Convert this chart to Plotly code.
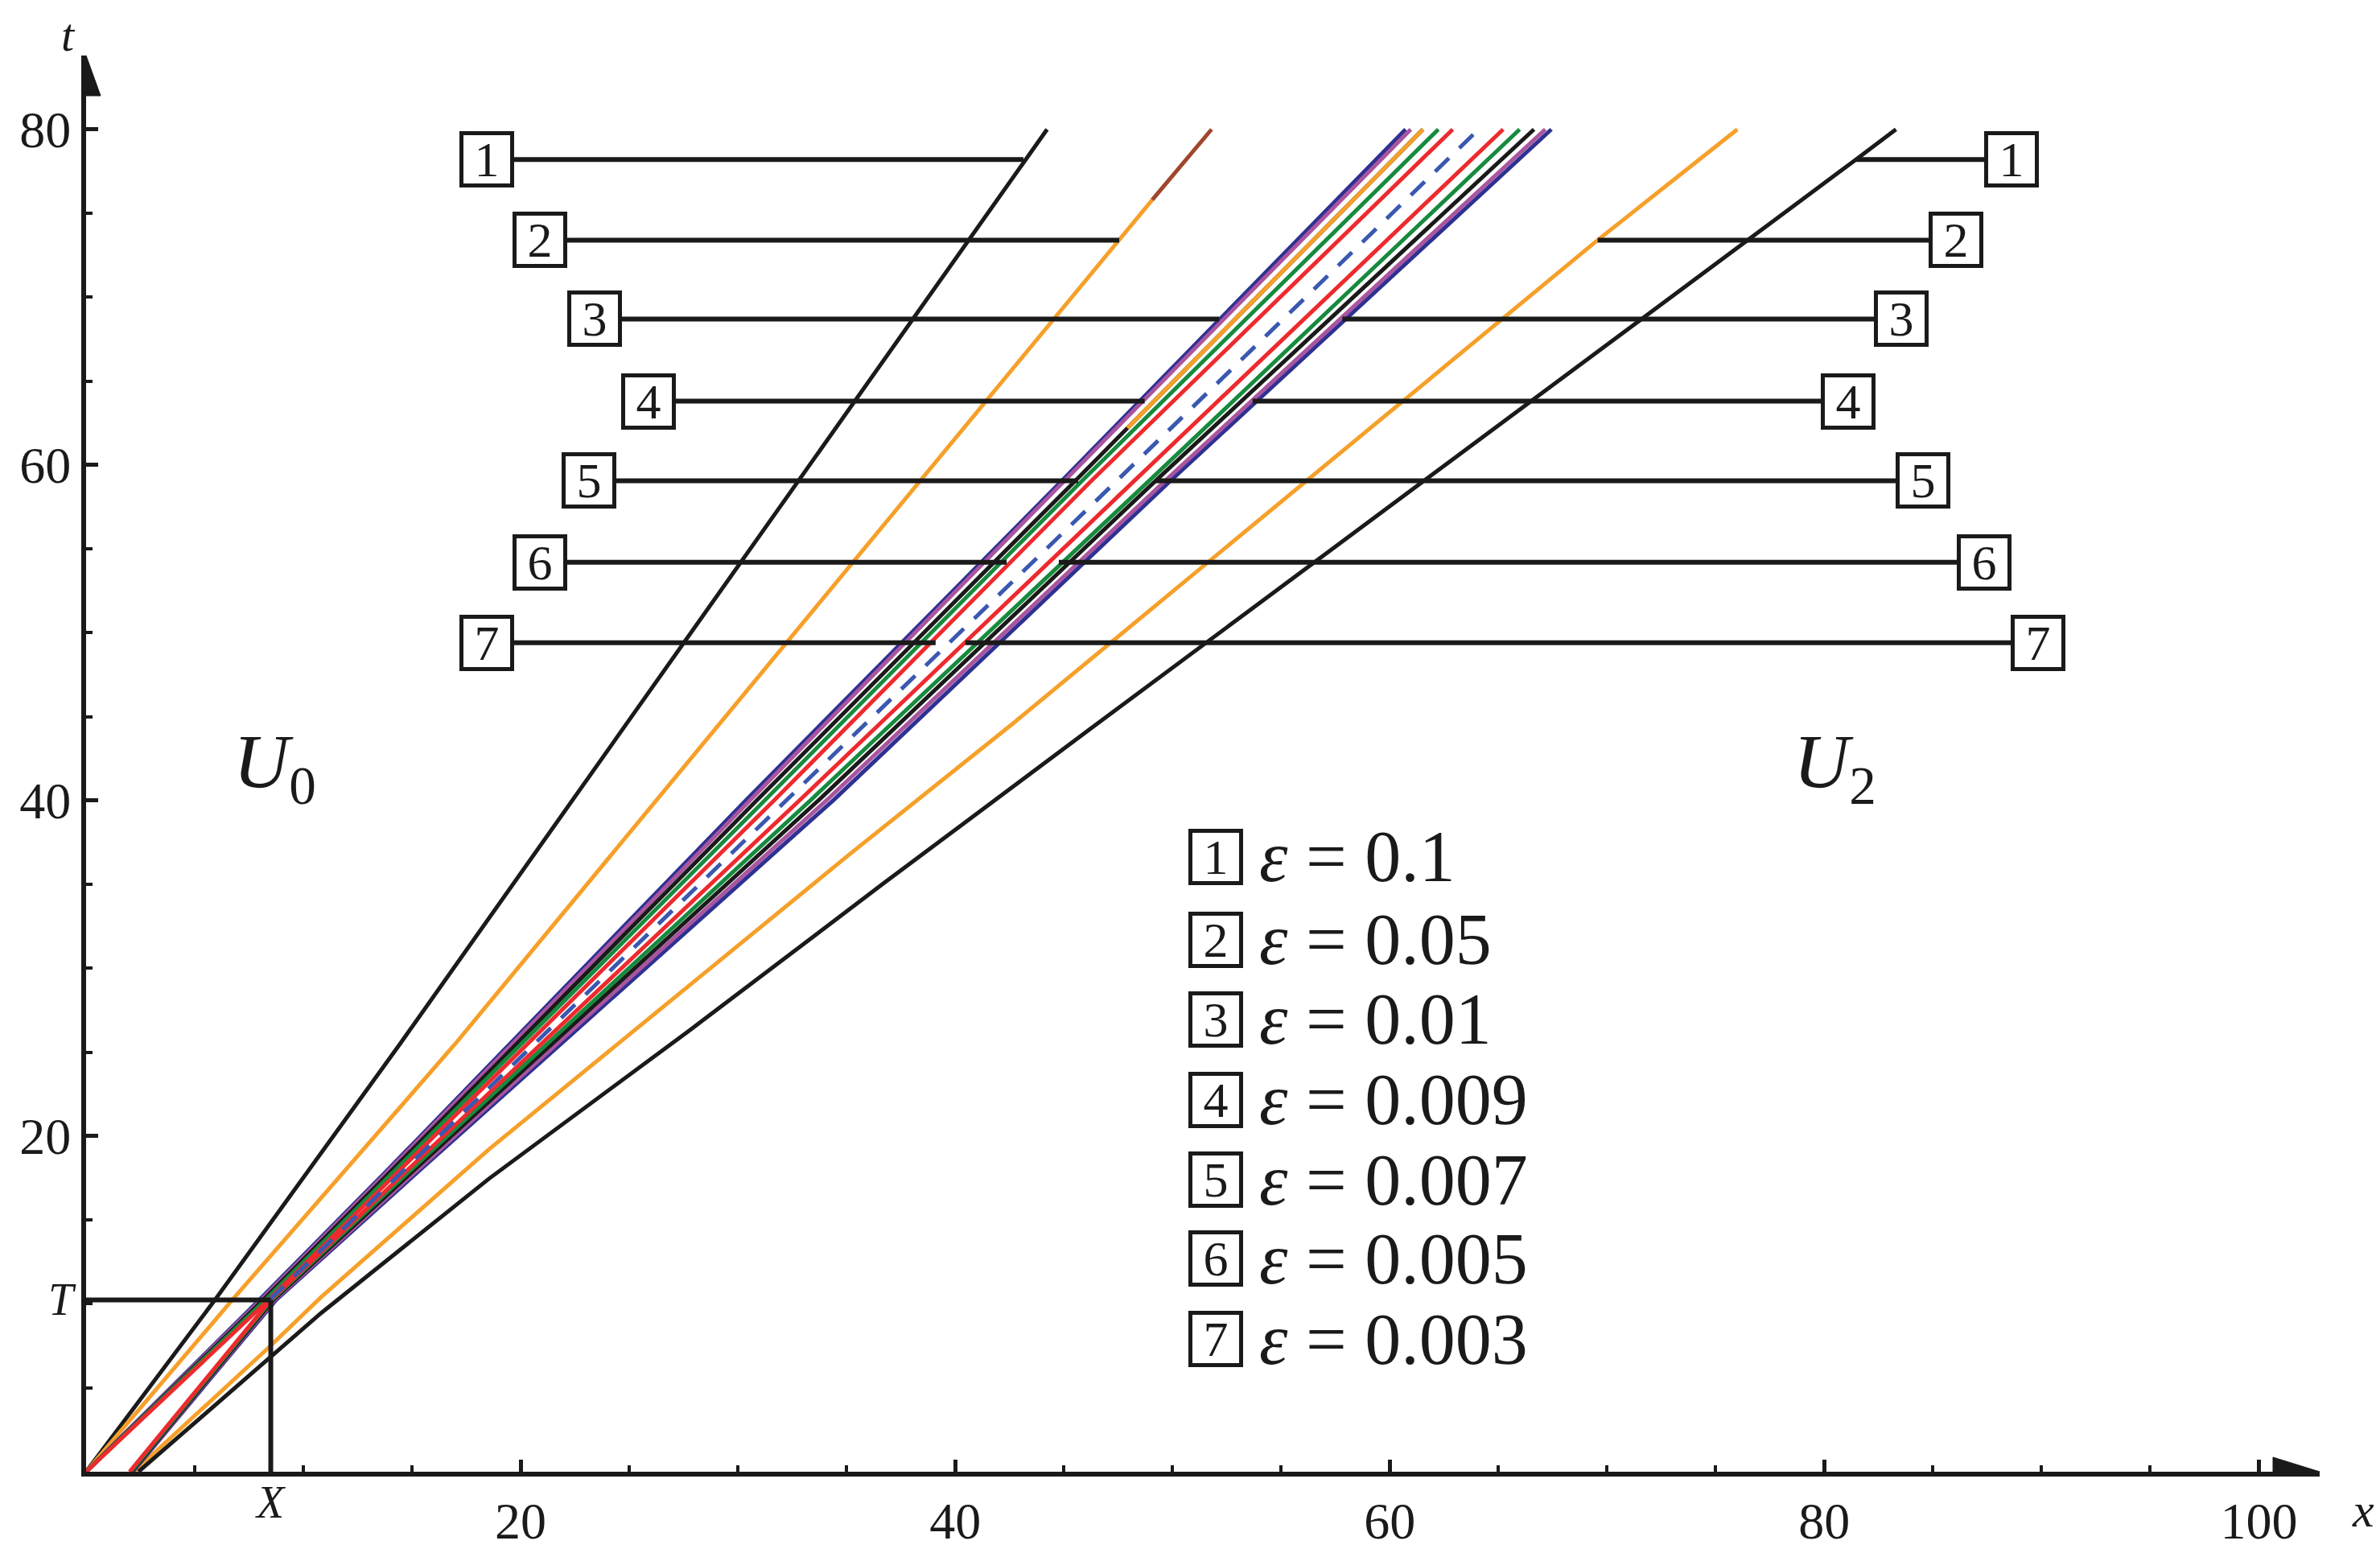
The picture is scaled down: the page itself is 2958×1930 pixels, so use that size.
import plotly.graph_objects as go

# rectangle of the initial zone
X_corner = 8.5
T_corner = 10.24

# outer curves (eps = 0.1 black, eps = 0.05 orange): t values and x values
black_L_t = [0, 10.24, 25.5, 80]
black_L_x = [0, 5.93, 14.45, 44.23]
black_R_t = [0, 6.83, 9.45, 17.45, 26.33, 35.05, 44.32, 78.2, 80]
black_R_x = [2.41, 8.5, 10.81, 18.53, 27.8, 36.69, 46.27, 81.46, 83.3]
orange_L_t = [0, 10.24, 25.5, 73.4, 75.8]
orange_L_x = [0, 6.73, 16.99, 47.55, 49.07]
brown_L_t = [75.8, 80]
brown_L_x = [49.07, 51.8]
orange_R_t = [0, 7.47, 10.4, 19.2, 29.02, 36.87, 44.55, 73.4, 80]
orange_R_x = [2.2, 8.46, 10.81, 18.53, 27.8, 35.21, 42.62, 69.57, 76.0]

# inner bundle (eps = 0.01 .. 0.003), read at common t levels
bundle_t = [0, 10.24, 17.93, 40.04, 59.06, 80]
navy_L = [0, 7.97, 13.84, 30.39, 44.91, 60.73]
purple_L = [0, 8.05, 13.92, 30.58, 45.03, 60.97]
black_L2 = [0, 8.15, 14.05, 30.89, 45.53, 61.53]
green_L = [0, 8.25, 14.2, 31.26, 45.84, 62.24]
red_L = [0, 8.4, 14.4, 31.69, 46.27, 62.90]
red_R = [2.0, 8.5, 14.75, 32.86, 48.25, 65.22]
green_R = [2.05, 8.55, 14.9, 33.36, 48.93, 65.98]
black_R2 = [2.1, 8.62, 15.05, 33.73, 49.23, 66.64]
purple_R = [2.12, 8.68, 15.2, 34.1, 49.67, 67.16]
navy_R = [2.15, 8.75, 15.32, 34.41, 49.91, 67.44]
dashed_t = [10.24, 17.93, 40.04, 59.06, 80]
dashed_x = [8.45, 14.6, 32.25, 47.44, 64.09]
orange_top_t = [62.2, 80]
orange_top_x = [47.93, 61.53]

# numbered label lines
label_nums = ["1", "2", "3", "4", "5", "6", "7"]
label_t = [78.2, 73.4, 68.7, 63.8, 59.06, 54.2, 49.4]
label_box_left = [18.46, 20.9, 23.42, 25.87, 23.14, 20.9, 18.46]
label_end_left = [43.14, 47.55, 52.15, 48.72, 45.66, 42.37, 39.10]
label_end_right = [81.46, 69.57, 57.82, 53.69, 49.22, 44.77, 40.47]
label_box_right = [88.6, 86.07, 83.56, 81.1, 84.54, 87.34, 89.85]

# legend
eps_values = ["0.1", "0.05", "0.01", "0.009", "0.007", "0.005", "0.003"]
legend_t = [36.66, 31.71, 26.96, 22.16, 17.40, 12.7, 7.9]

NAVY = "#2E3192"
PURPLE = "#A9559F"
GREEN = "#178A3E"
RED = "#EE2A2E"
BLUE = "#3A58B0"
ORANGE = "#F6A02A"
BROWN = "#A0462D"
BLACK = "#1A1A1A"
SERIF = "Liberation Serif"

X_MAX = 102.8
Y_MAX = 84.4
PX_X = 27.0   # pixels per x unit
PX_T = 21.07  # pixels per t unit
LEFT = 99
BOTTOM = 91

fig = go.Figure()


def add_curve(xs, ts, color, dash="solid", width=5):
    fig.add_trace(go.Scatter(x=xs, y=ts, mode="lines",
                             line=dict(color=color, width=width, dash=dash),
                             showlegend=False, hoverinfo="skip"))


add_curve(black_L_x, black_L_t, BLACK)
add_curve(orange_L_x, orange_L_t, ORANGE)
add_curve(brown_L_x, brown_L_t, BROWN)
add_curve(orange_R_x, orange_R_t, ORANGE)
add_curve(black_R_x, black_R_t, BLACK)

for xs, col in [(navy_L, NAVY), (purple_L, PURPLE), (black_L2, BLACK),
                (green_L, GREEN), (red_L, RED),
                (navy_R, NAVY), (purple_R, PURPLE), (black_R2, BLACK),
                (green_R, GREEN), (red_R, RED)]:
    add_curve(xs, bundle_t, col)
add_curve(orange_top_x, orange_top_t, ORANGE)
add_curve(dashed_x, dashed_t, BLUE, dash="24px,18px")

shapes = []
# X x T rectangle
shapes.append(dict(type="line", x0=0, y0=T_corner, x1=X_corner, y1=T_corner,
                   line=dict(color=BLACK, width=6), layer="above"))
shapes.append(dict(type="line", x0=X_corner, y0=0, x1=X_corner, y1=T_corner,
                   line=dict(color=BLACK, width=6), layer="above"))

annotations = []
box_style = dict(bordercolor=BLACK, borderwidth=5, bgcolor="white",
                 width=58, height=60, borderpad=0, showarrow=False,
                 font=dict(family=SERIF, size=62, color=BLACK))
for n, t, bl, el, er, br in zip(label_nums, label_t, label_box_left,
                                label_end_left, label_end_right, label_box_right):
    shapes.append(dict(type="line", x0=bl, y0=t, x1=el, y1=t,
                       line=dict(color=BLACK, width=6), layer="above"))
    shapes.append(dict(type="line", x0=er, y0=t, x1=br, y1=t,
                       line=dict(color=BLACK, width=6), layer="above"))
    annotations.append(dict(x=bl, y=t, xref="x", yref="y", text=n, **box_style))
    annotations.append(dict(x=br, y=t, xref="x", yref="y", text=n, **box_style))

for n, e, t in zip(label_nums, eps_values, legend_t):
    annotations.append(dict(x=52.0, y=t, xref="x", yref="y", text=n, **box_style))
    annotations.append(dict(x=53.9, y=t, xref="x", yref="y", xanchor="left",
                            text="<i>ε</i> = " + e, showarrow=False,
                            font=dict(family=SERIF, size=90, color=BLACK)))

# region labels
annotations.append(dict(x=8.7, y=42.0, xref="x", yref="y", showarrow=False,
                        text="<i>U</i><sub>0</sub>",
                        font=dict(family=SERIF, size=96, color=BLACK)))
annotations.append(dict(x=80.5, y=42.0, xref="x", yref="y", showarrow=False,
                        text="<i>U</i><sub>2</sub>",
                        font=dict(family=SERIF, size=96, color=BLACK)))

# axis names and corner marks (outside the axis ranges, so placed in paper units)
edge_labels = [("<i>T</i>", -1.1, T_corner, 56),
               ("<i>X</i>", X_corner, -1.8, 56),
               ("<i>t</i>", -0.8, 85.6, 58),
               ("<i>x</i>", 104.8, -2.3, 60)]
for txt, xv, tv, size in edge_labels:
    annotations.append(dict(x=xv / X_MAX, y=tv / Y_MAX, xref="paper", yref="paper",
                            xanchor="center", yanchor="middle",
                            showarrow=False, text=txt,
                            font=dict(family=SERIF, size=size, color=BLACK)))

# arrow heads on the axes
shapes.append(dict(type="path", xsizemode="pixel", ysizemode="pixel",
                   xanchor=X_MAX, yanchor=0, path="M 0 0 L -58 18 L -58 -18 Z",
                   fillcolor=BLACK, line=dict(color=BLACK, width=1), layer="above"))
shapes.append(dict(type="path", xsizemode="pixel", ysizemode="pixel",
                   xanchor=0, yanchor=Y_MAX, path="M 0 0 L -18 -50 L 18 -50 Z",
                   fillcolor=BLACK, line=dict(color=BLACK, width=1), layer="above"))

plot_w = int(round(X_MAX * PX_X))
plot_h = int(round(Y_MAX * PX_T))
fig.update_layout(
    width=2958, height=1930,
    margin=dict(l=LEFT, r=2958 - LEFT - plot_w, t=1930 - BOTTOM - plot_h, b=BOTTOM),
    plot_bgcolor="white", paper_bgcolor="white",
    shapes=shapes, annotations=annotations,
    xaxis=dict(range=[0, X_MAX], showgrid=False, zeroline=False,
               showline=True, linecolor=BLACK, linewidth=6,
               ticks="inside", ticklen=15, tickwidth=5, tickcolor=BLACK,
               tickvals=[20, 40, 60, 80, 100],
               minor=dict(ticks="inside", dtick=5, tick0=0, ticklen=8,
                          tickwidth=4, tickcolor=BLACK),
               tickfont=dict(family=SERIF, size=64, color=BLACK)),
    yaxis=dict(range=[0, Y_MAX], showgrid=False, zeroline=False,
               showline=True, linecolor=BLACK, linewidth=6,
               ticks="inside", ticklen=15, tickwidth=5, tickcolor=BLACK,
               tickvals=[20, 40, 60, 80],
               minor=dict(ticks="inside", dtick=5, tick0=0, ticklen=8,
                          tickwidth=4, tickcolor=BLACK),
               tickfont=dict(family=SERIF, size=64, color=BLACK)),
)

fig.write_html("out.html")
